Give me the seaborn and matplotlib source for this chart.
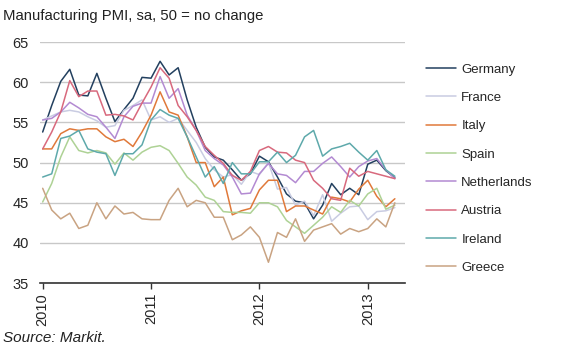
import pandas as pd
import matplotlib.pyplot as plt
import seaborn as sns
import numpy as np

# monthly PMI, Jan 2010 - Apr 2013
months = pd.date_range('2010-01-01', '2013-04-01', freq='MS')
year_labels = ['2010', '2011', '2012', '2013']

germany = [53.8, 57.1, 60.1, 61.6, 58.4, 58.3, 61.1, 58.0, 55.1, 56.6,
           58.0, 60.6, 60.5, 62.6, 60.9, 61.8, 57.8, 54.4, 51.9, 50.7,
           50.3, 49.1, 47.8, 48.6, 50.8, 50.1, 48.2, 46.1, 45.2, 45.0,
           43.0, 44.7, 47.4, 46.0, 46.8, 46.0, 49.8, 50.3, 49.0, 48.1]
france = [55.3, 55.8, 56.3, 56.5, 56.3, 55.7, 55.2, 54.4, 54.6, 56.5,
          57.1, 57.8, 55.3, 55.7, 55.0, 55.5, 54.0, 52.5, 50.5, 49.1,
          48.2, 48.5, 47.3, 48.9, 48.5, 50.0, 46.7, 46.9, 44.7, 45.2,
          43.4, 46.0, 42.7, 43.7, 44.5, 44.6, 42.9, 43.9, 44.0, 44.4]
italy = [51.7, 51.7, 53.6, 54.2, 54.0, 54.2, 54.2, 53.2, 52.6, 52.9,
         52.0, 53.8, 55.9, 58.8, 56.3, 55.9, 53.2, 50.0, 50.0, 47.0,
         48.2, 43.5, 44.0, 44.3, 46.6, 47.8, 47.8, 43.9, 44.6, 44.6,
         44.1, 43.6, 45.7, 45.5, 45.1, 46.7, 47.8, 45.8, 44.5, 45.5]
spain = [45.1, 47.4, 50.7, 53.2, 51.5, 51.2, 51.5, 51.2, 49.8, 51.2,
         50.3, 51.3, 51.9, 52.1, 51.5, 49.9, 48.2, 47.2, 45.7, 45.3,
         43.9, 43.8, 43.8, 43.7, 45.0, 45.0, 44.5, 42.8, 42.0, 41.2,
         42.2, 43.2, 44.5, 43.8, 45.3, 44.6, 46.1, 46.8, 44.2, 44.7]
netherlands = [55.3, 55.5, 56.3, 57.5, 56.8, 56.0, 55.7, 54.4, 53.0, 55.7,
               57.0, 57.4, 57.4, 60.7, 58.0, 59.2, 55.9, 54.0, 51.5, 50.5,
               49.7, 48.2, 46.1, 46.2, 48.6, 49.9, 48.6, 48.4, 47.5, 48.9,
               48.9, 49.9, 50.7, 49.5, 48.2, 49.5, 50.2, 50.5, 49.1, 48.0]
austria = [51.7, 53.8, 56.3, 60.2, 58.2, 58.9, 58.9, 55.9, 56.0, 55.8,
           55.3, 57.4, 59.4, 61.8, 60.5, 57.1, 55.7, 54.0, 52.0, 50.9,
           49.9, 48.4, 47.8, 48.9, 51.5, 52.0, 51.3, 51.2, 50.3, 50.0,
           47.8, 46.8, 45.5, 45.3, 49.3, 48.3, 48.9, 48.6, 48.3, 48.0]
ireland = [48.2, 48.6, 53.0, 53.3, 54.0, 51.7, 51.3, 51.1, 48.4, 51.1,
           51.1, 52.2, 55.3, 56.6, 55.9, 55.5, 53.2, 50.7, 48.2, 49.5,
           47.4, 50.0, 48.6, 48.6, 50.1, 50.1, 51.3, 50.0, 50.9, 53.2,
           54.0, 50.8, 51.7, 52.0, 52.4, 51.3, 50.3, 51.5, 49.1, 48.3]
greece = [46.8, 44.1, 43.0, 43.7, 41.8, 42.2, 45.0, 43.0, 44.6, 43.6,
          43.8, 43.0, 42.9, 42.9, 45.3, 46.8, 44.5, 45.3, 45.0, 43.2,
          43.2, 40.4, 41.0, 42.0, 40.7, 37.6, 41.3, 40.7, 43.0, 40.2,
          41.6, 42.0, 42.4, 41.1, 41.8, 41.4, 41.8, 43.0, 42.0, 45.0]

countries = ['Germany', 'France', 'Italy', 'Spain', 'Netherlands',
             'Austria', 'Ireland', 'Greece']
colors = ['#23405f', '#c9cce2', '#e0793a', '#aed295', '#b38ad2',
          '#d8697d', '#5ea9ab', '#c9a382']
series = [germany, france, italy, spain, netherlands, austria, ireland, greece]

df = pd.concat([pd.DataFrame({'month': np.arange(len(months)), 'pmi': vals,
                              'country': name})
                for name, vals in zip(countries, series)])

sns.set_style('white')
plt.rcParams['font.family'] = ['Liberation Sans', 'DejaVu Sans']

fig = plt.figure(figsize=(5.63, 3.5), dpi=100)
ax = fig.add_axes([0.071, 0.191, 0.648, 0.689])

sns.lineplot(data=df, x='month', y='pmi', hue='country', hue_order=countries,
             palette=colors, linewidth=1.1, ax=ax)

ax.set_ylim(35, 65)
ax.set_xlim(-0.3, 40.1)
ax.set_yticks([35, 40, 45, 50, 55, 60, 65])
ax.yaxis.grid(True, color='#c8c8c8', linewidth=1.0)
ax.set_axisbelow(True)

year_pos = [i for i, m in enumerate(months) if m.month == 1]
ax.set_xticks(year_pos)
ax.set_xticklabels(year_labels, rotation=90)
ax.tick_params(axis='x', direction='out', length=4, width=1, color='#333333',
               labelsize=10.5, pad=3, bottom=True)
ax.tick_params(axis='y', length=0, labelsize=10.5, pad=8)
for s in ['top', 'right', 'left']:
    ax.spines[s].set_visible(False)
ax.spines['bottom'].set_color('#333333')
ax.spines['bottom'].set_linewidth(1.2)
ax.set_xlabel('')
ax.set_ylabel('')

handles, labels = ax.get_legend_handles_labels()
ax.legend(handles, labels, loc='upper left', bbox_to_anchor=(0.735, 0.853),
          bbox_transform=fig.transFigure, frameon=False, fontsize=9.5,
          labelspacing=1.22, handlelength=2.3, handletextpad=0.4)

fig.text(0.005, 0.955, 'Manufacturing PMI, sa, 50 = no change', fontsize=10.7,
         color='#222222', va='center')
fig.text(0.005, 0.035, 'Source: Markit.', fontsize=11, style='italic',
         color='#222222', va='center')

fig.savefig('out.png', dpi=100)
